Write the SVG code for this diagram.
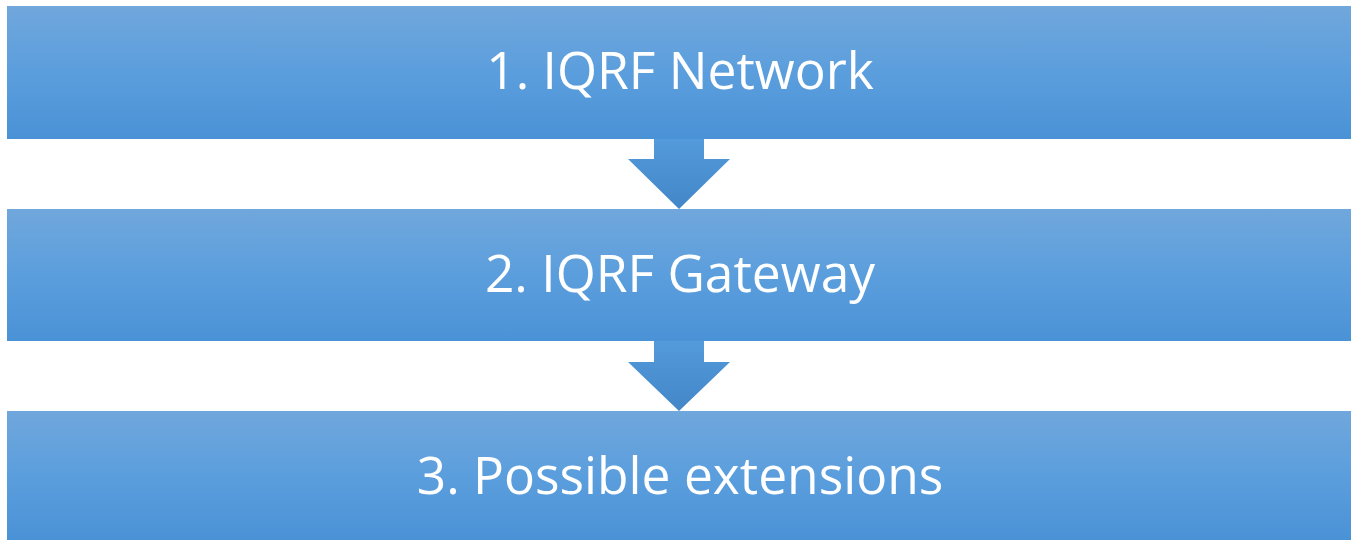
<svg xmlns="http://www.w3.org/2000/svg" width="1351" height="540" viewBox="0 0 1351 540">
<defs>
<linearGradient id="boxg" x1="0" y1="0" x2="0" y2="1">
<stop offset="0" stop-color="#70a7dc"/>
<stop offset="0.5" stop-color="#5b9edd"/>
<stop offset="1" stop-color="#4a92d6"/>
</linearGradient>
<linearGradient id="arrg" x1="0" y1="0" x2="0" y2="1">
<stop offset="0" stop-color="#549bdb"/>
<stop offset="1" stop-color="#4286c8"/>
</linearGradient>
<style>
.box{fill:url(#boxg);}
.arr{fill:url(#arrg);}
.lbl{font-family:"Open Sans","Liberation Sans",sans-serif;font-size:51.5px;fill:#ffffff;text-anchor:middle;}
</style>
</defs>
<rect width="1351" height="540" fill="#ffffff"/>
<g id="connectors">
<polygon class="arr" points="654,139 704,139 704,159 730,159 679,209 628,159 654,159"/>
<polygon class="arr" points="654,341 704,341 704,362 730,362 679,411 628,362 654,362"/>
</g>
<g id="node1">
<rect class="box" x="7" y="6" width="1344" height="133"/>
<text class="lbl" x="680" y="89">1. IQRF Network</text>
</g>
<g id="node2">
<rect class="box" x="7" y="209" width="1344" height="132"/>
<text class="lbl" x="680" y="292">2. IQRF Gateway</text>
</g>
<g id="node3">
<rect class="box" x="7" y="411" width="1344" height="129"/>
<text class="lbl" x="680" y="494">3. Possible extensions</text>
</g>
</svg>
